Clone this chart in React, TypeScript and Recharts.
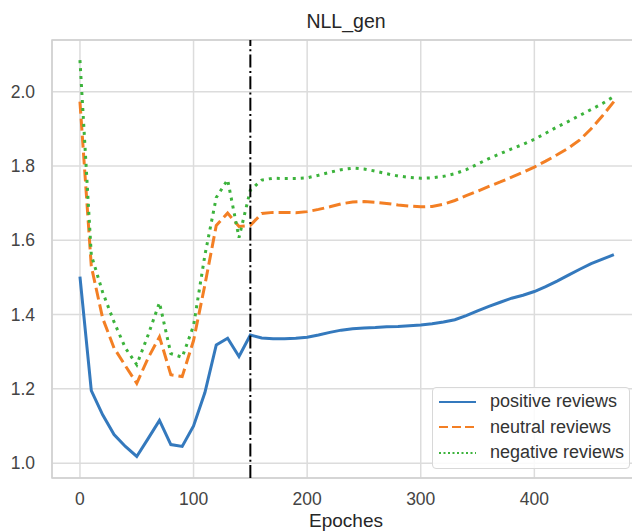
import React from "react";
import {
  LineChart,
  Line,
  XAxis,
  YAxis,
  CartesianGrid,
  Legend,
  ReferenceLine,
  ReferenceArea,
} from "recharts";

const epochs = [
  0, 10, 20, 30, 40, 50, 60, 70, 80, 90, 100, 110, 120, 130, 140, 150, 160,
  170, 180, 190, 200, 210, 220, 230, 240, 250, 260, 270, 280, 290, 300, 310,
  320, 330, 340, 350, 360, 370, 380, 390, 400, 410, 420, 430, 440, 450, 460,
  470,
];

const positive = [
  1.502, 1.195, 1.13, 1.077, 1.045, 1.018, 1.066, 1.115, 1.05, 1.045, 1.1,
  1.19, 1.318, 1.336, 1.287, 1.345, 1.337, 1.335, 1.335, 1.336, 1.339, 1.345,
  1.352, 1.358, 1.362, 1.364, 1.365, 1.367, 1.368, 1.37, 1.372, 1.375, 1.38,
  1.386, 1.397, 1.41, 1.422, 1.433, 1.444, 1.452, 1.462, 1.475, 1.49, 1.506,
  1.522, 1.537, 1.549, 1.561,
];

const neutral = [
  1.973, 1.53, 1.39, 1.31, 1.262, 1.215, 1.283, 1.34, 1.238, 1.233, 1.33, 1.48,
  1.64, 1.673, 1.637, 1.64, 1.672, 1.675, 1.675, 1.674, 1.677, 1.683, 1.69,
  1.698, 1.703, 1.704, 1.702, 1.699, 1.695, 1.692, 1.69, 1.691, 1.697, 1.707,
  1.72, 1.732, 1.745, 1.757, 1.77, 1.783, 1.797, 1.813, 1.83, 1.848, 1.87, 1.9,
  1.935, 1.973,
];

const negative = [
  2.085, 1.56, 1.46, 1.38, 1.31, 1.265, 1.345, 1.432, 1.295, 1.285, 1.37, 1.56,
  1.715, 1.763, 1.607, 1.735, 1.762, 1.767, 1.766, 1.766, 1.768, 1.775, 1.783,
  1.79, 1.794, 1.792, 1.786, 1.779, 1.773, 1.769, 1.767, 1.768, 1.772, 1.779,
  1.79, 1.805, 1.82, 1.833, 1.846, 1.858, 1.872, 1.888, 1.905, 1.92, 1.936,
  1.952, 1.968, 1.987,
];

const xTicks = [0, 100, 200, 300, 400];
const yTicks = [1.0, 1.2, 1.4, 1.6, 1.8, 2.0];
const xDomain = [-24.6, 493];
const yDomain = [0.96, 2.139];
const splitEpoch = 150;

const FONT = '"Liberation Sans", Arial, sans-serif';

const series = [
  { key: "positive", name: "positive reviews", color: "#3479bd", dash: undefined, legendDash: undefined },
  { key: "neutral", name: "neutral reviews", color: "#f37f24", dash: "12 5", legendDash: "9 4" },
  { key: "negative", name: "negative reviews", color: "#3cb33c", dash: "3 5", legendDash: "2 2.5" },
];

const data = epochs.map((epoch, i) => ({
  epoch,
  positive: positive[i],
  neutral: neutral[i],
  negative: negative[i],
}));

function renderLegend(props: any) {
  const payload: any[] = props.payload || [];
  // keep the plotting order, not the alphabetical one
  const entries = series
    .map((s) => ({ s, entry: payload.find((p) => p.dataKey === s.key) }))
    .filter((d) => d.entry);
  return (
    <div
      style={{
        boxSizing: "border-box",
        width: 198,
        height: 82,
        paddingTop: 1,
        border: "1px solid #d8d8d8",
        borderRadius: 4,
        background: "rgba(255,255,255,0.85)",
        fontFamily: FONT,
        fontSize: 18,
        color: "#333",
      }}
    >
      {entries.map(({ s, entry }) => (
        <div
          key={s.key}
          style={{ display: "flex", alignItems: "center", height: 25.5 }}
        >
          <svg width={57} height={10} style={{ flex: "none" }}>
            <line
              x1={6}
              x2={43}
              y1={5}
              y2={5}
              stroke={s.color}
              strokeWidth={2}
              strokeDasharray={s.legendDash}
            />
          </svg>
          <span style={{ whiteSpace: "nowrap" }}>{entry.value}</span>
        </div>
      ))}
    </div>
  );
}

export default function App() {
  return (
    <div
      style={{
        position: "fixed",
        left: 0,
        top: 0,
        width: 632,
        height: 531,
        overflow: "hidden",
        background: "#fff",
      }}
    >
      <div
        style={{
          position: "absolute",
          left: 246,
          width: 200,
          top: 12,
          textAlign: "center",
          fontFamily: FONT,
          fontSize: 19.5,
          lineHeight: "19px",
          color: "#262626",
        }}
      >
        NLL_gen
      </div>
      <LineChart
        width={660}
        height={560}
        data={data}
        margin={{ top: 40, right: 20, bottom: 0, left: 0 }}
      >
        <CartesianGrid stroke="#dcdcdc" strokeWidth={1.5} />
        <ReferenceArea
          x1={xDomain[0]}
          x2={xDomain[1]}
          y1={yDomain[0]}
          y2={yDomain[1]}
          fill="none"
          stroke="#d0d0d0"
          strokeWidth={1.5}
          ifOverflow="visible"
        />
        <XAxis
          dataKey="epoch"
          type="number"
          domain={xDomain}
          ticks={xTicks}
          allowDataOverflow
          height={82}
          axisLine={false}
          tickLine={false}
          tickSize={0}
          tickMargin={15}
          tick={{ fill: "#444", fontSize: 17.5, fontFamily: FONT }}
          label={{
            value: "Epoches",
            position: "insideBottom",
            offset: 33,
            fill: "#262626",
            fontSize: 19,
            fontFamily: FONT,
          }}
        />
        <YAxis
          type="number"
          domain={yDomain}
          ticks={yTicks}
          allowDataOverflow
          width={52}
          axisLine={false}
          tickLine={false}
          tickSize={0}
          tickMargin={17}
          tickFormatter={(v) => Number(v).toFixed(1)}
          tick={{ fill: "#444", fontSize: 17.5, fontFamily: FONT }}
        />
        {series.map((s) => (
          <Line
            key={s.key}
            type="linear"
            dataKey={s.key}
            name={s.name}
            stroke={s.color}
            strokeWidth={3}
            strokeDasharray={s.dash}
            strokeLinecap="butt"
            dot={false}
            activeDot={false}
            isAnimationActive={false}
          />
        ))}
        <ReferenceLine
          x={splitEpoch}
          stroke="#000"
          strokeWidth={2}
          strokeDasharray="13 3.3 2 3.3"
        />
        <Legend
          layout="vertical"
          align="center"
          verticalAlign="middle"
          content={renderLegend}
          wrapperStyle={{ left: 432, top: 387, width: 198, height: 82 }}
        />
      </LineChart>
    </div>
  );
}
